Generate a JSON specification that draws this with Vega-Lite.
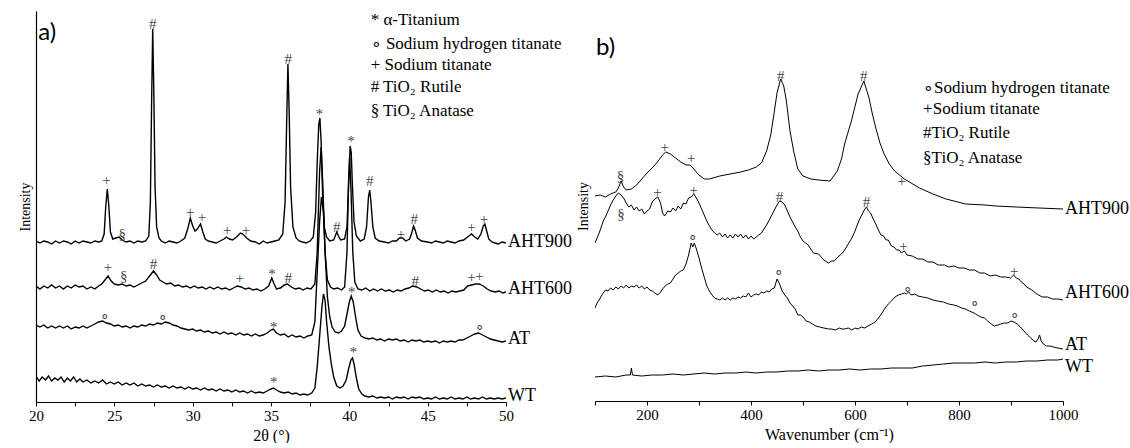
{
"$schema": "https://vega.github.io/schema/vega-lite/v6.json",
"background": "white",
"padding": {"left": 18, "top": 10, "right": 0, "bottom": 0},
"spacing": 4,
"config": {
  "font": "Liberation Serif",
  "view": {"stroke": null},
  "axis": {"grid": false, "domainColor": "black", "domainWidth": 1.2, "tickColor": "black", "labelColor": "black", "titleColor": "black", "labelFont": "Liberation Serif", "titleFont": "Liberation Serif", "titleFontWeight": "normal", "labelFontSize": 15, "titleFontSize": 16}
},
"datasets": {
  "xrd": [
    {"s":"AHT900","x":20.0,"y":161},{"s":"AHT900","x":20.25,"y":159},{"s":"AHT900","x":20.5,"y":161},{"s":"AHT900","x":20.75,"y":160},{"s":"AHT900","x":21.0,"y":158},{"s":"AHT900","x":21.25,"y":161},{"s":"AHT900","x":21.5,"y":159},{"s":"AHT900","x":21.75,"y":161},{"s":"AHT900","x":22.0,"y":160},{"s":"AHT900","x":22.25,"y":158},{"s":"AHT900","x":22.5,"y":161},{"s":"AHT900","x":22.75,"y":159},{"s":"AHT900","x":23.0,"y":161},{"s":"AHT900","x":23.25,"y":160},{"s":"AHT900","x":23.5,"y":159},{"s":"AHT900","x":23.75,"y":161},{"s":"AHT900","x":24.0,"y":160},{"s":"AHT900","x":24.2,"y":161},{"s":"AHT900","x":24.35,"y":168},{"s":"AHT900","x":24.45,"y":195},{"s":"AHT900","x":24.55,"y":213},{"s":"AHT900","x":24.65,"y":196},{"s":"AHT900","x":24.75,"y":170},{"s":"AHT900","x":24.9,"y":163},{"s":"AHT900","x":25.1,"y":164},{"s":"AHT900","x":25.3,"y":165},{"s":"AHT900","x":25.5,"y":162},{"s":"AHT900","x":25.75,"y":160},{"s":"AHT900","x":26.0,"y":161},{"s":"AHT900","x":26.25,"y":159},{"s":"AHT900","x":26.5,"y":161},{"s":"AHT900","x":26.75,"y":160},{"s":"AHT900","x":27.0,"y":161},{"s":"AHT900","x":27.2,"y":166},{"s":"AHT900","x":27.3,"y":200},{"s":"AHT900","x":27.38,"y":300},{"s":"AHT900","x":27.45,"y":373},{"s":"AHT900","x":27.52,"y":310},{"s":"AHT900","x":27.6,"y":215},{"s":"AHT900","x":27.7,"y":175},{"s":"AHT900","x":27.85,"y":164},{"s":"AHT900","x":28.0,"y":161},{"s":"AHT900","x":28.25,"y":159},{"s":"AHT900","x":28.5,"y":161},{"s":"AHT900","x":28.75,"y":160},{"s":"AHT900","x":29.0,"y":159},{"s":"AHT900","x":29.25,"y":161},{"s":"AHT900","x":29.5,"y":164},{"s":"AHT900","x":29.7,"y":174},{"s":"AHT900","x":29.85,"y":184},{"s":"AHT900","x":30.0,"y":176},{"s":"AHT900","x":30.15,"y":171},{"s":"AHT900","x":30.3,"y":173},{"s":"AHT900","x":30.5,"y":178},{"s":"AHT900","x":30.65,"y":170},{"s":"AHT900","x":30.8,"y":163},{"s":"AHT900","x":31.0,"y":161},{"s":"AHT900","x":31.25,"y":160},{"s":"AHT900","x":31.5,"y":159},{"s":"AHT900","x":31.75,"y":161},{"s":"AHT900","x":32.0,"y":163},{"s":"AHT900","x":32.15,"y":165},{"s":"AHT900","x":32.35,"y":163},{"s":"AHT900","x":32.55,"y":162},{"s":"AHT900","x":32.8,"y":165},{"s":"AHT900","x":33.05,"y":169},{"s":"AHT900","x":33.2,"y":168},{"s":"AHT900","x":33.45,"y":164},{"s":"AHT900","x":33.7,"y":161},{"s":"AHT900","x":34.0,"y":160},{"s":"AHT900","x":34.25,"y":158},{"s":"AHT900","x":34.5,"y":161},{"s":"AHT900","x":34.75,"y":159},{"s":"AHT900","x":35.0,"y":160},{"s":"AHT900","x":35.25,"y":161},{"s":"AHT900","x":35.5,"y":162},{"s":"AHT900","x":35.75,"y":168},{"s":"AHT900","x":35.9,"y":200},{"s":"AHT900","x":36.0,"y":280},{"s":"AHT900","x":36.08,"y":338},{"s":"AHT900","x":36.16,"y":290},{"s":"AHT900","x":36.25,"y":215},{"s":"AHT900","x":36.4,"y":175},{"s":"AHT900","x":36.6,"y":164},{"s":"AHT900","x":36.8,"y":161},{"s":"AHT900","x":37.0,"y":160},{"s":"AHT900","x":37.25,"y":159},{"s":"AHT900","x":37.5,"y":161},{"s":"AHT900","x":37.7,"y":165},{"s":"AHT900","x":37.85,"y":190},{"s":"AHT900","x":37.95,"y":240},{"s":"AHT900","x":38.05,"y":278},{"s":"AHT900","x":38.12,"y":284},{"s":"AHT900","x":38.2,"y":260},{"s":"AHT900","x":38.3,"y":205},{"s":"AHT900","x":38.4,"y":175},{"s":"AHT900","x":38.55,"y":165},{"s":"AHT900","x":38.75,"y":161},{"s":"AHT900","x":39.0,"y":162},{"s":"AHT900","x":39.1,"y":166},{"s":"AHT900","x":39.2,"y":170},{"s":"AHT900","x":39.3,"y":166},{"s":"AHT900","x":39.45,"y":162},{"s":"AHT900","x":39.7,"y":163},{"s":"AHT900","x":39.85,"y":175},{"s":"AHT900","x":39.95,"y":215},{"s":"AHT900","x":40.05,"y":256},{"s":"AHT900","x":40.12,"y":250},{"s":"AHT900","x":40.2,"y":215},{"s":"AHT900","x":40.3,"y":180},{"s":"AHT900","x":40.45,"y":166},{"s":"AHT900","x":40.7,"y":161},{"s":"AHT900","x":40.95,"y":163},{"s":"AHT900","x":41.1,"y":175},{"s":"AHT900","x":41.22,"y":205},{"s":"AHT900","x":41.3,"y":212},{"s":"AHT900","x":41.38,"y":200},{"s":"AHT900","x":41.5,"y":175},{"s":"AHT900","x":41.65,"y":164},{"s":"AHT900","x":41.9,"y":161},{"s":"AHT900","x":42.25,"y":160},{"s":"AHT900","x":42.5,"y":159},{"s":"AHT900","x":42.75,"y":161},{"s":"AHT900","x":43.0,"y":161},{"s":"AHT900","x":43.2,"y":164},{"s":"AHT900","x":43.4,"y":164},{"s":"AHT900","x":43.6,"y":161},{"s":"AHT900","x":43.85,"y":163},{"s":"AHT900","x":44.0,"y":170},{"s":"AHT900","x":44.1,"y":176},{"s":"AHT900","x":44.2,"y":172},{"s":"AHT900","x":44.35,"y":164},{"s":"AHT900","x":44.6,"y":161},{"s":"AHT900","x":45.0,"y":160},{"s":"AHT900","x":45.25,"y":159},{"s":"AHT900","x":45.5,"y":161},{"s":"AHT900","x":45.75,"y":160},{"s":"AHT900","x":46.0,"y":159},{"s":"AHT900","x":46.25,"y":161},{"s":"AHT900","x":46.5,"y":160},{"s":"AHT900","x":46.75,"y":159},{"s":"AHT900","x":47.0,"y":161},{"s":"AHT900","x":47.3,"y":162},{"s":"AHT900","x":47.55,"y":165},{"s":"AHT900","x":47.8,"y":168},{"s":"AHT900","x":48.0,"y":165},{"s":"AHT900","x":48.2,"y":163},{"s":"AHT900","x":48.4,"y":168},{"s":"AHT900","x":48.55,"y":176},{"s":"AHT900","x":48.65,"y":178},{"s":"AHT900","x":48.75,"y":172},{"s":"AHT900","x":48.9,"y":163},{"s":"AHT900","x":49.1,"y":160},{"s":"AHT900","x":49.3,"y":159},{"s":"AHT900","x":49.5,"y":158},{"s":"AHT900","x":49.75,"y":160},{"s":"AHT900","x":50.0,"y":159},
    {"s":"AHT600","x":20.0,"y":116},{"s":"AHT600","x":20.25,"y":113},{"s":"AHT600","x":20.5,"y":116},{"s":"AHT600","x":20.75,"y":114},{"s":"AHT600","x":21.0,"y":117},{"s":"AHT600","x":21.25,"y":114},{"s":"AHT600","x":21.5,"y":116},{"s":"AHT600","x":21.75,"y":113},{"s":"AHT600","x":22.0,"y":116},{"s":"AHT600","x":22.25,"y":114},{"s":"AHT600","x":22.5,"y":117},{"s":"AHT600","x":22.75,"y":115},{"s":"AHT600","x":23.0,"y":116},{"s":"AHT600","x":23.25,"y":113},{"s":"AHT600","x":23.5,"y":115},{"s":"AHT600","x":23.75,"y":113},{"s":"AHT600","x":24.0,"y":116},{"s":"AHT600","x":24.2,"y":118},{"s":"AHT600","x":24.4,"y":122},{"s":"AHT600","x":24.6,"y":126},{"s":"AHT600","x":24.8,"y":121},{"s":"AHT600","x":25.0,"y":118},{"s":"AHT600","x":25.25,"y":117},{"s":"AHT600","x":25.5,"y":118},{"s":"AHT600","x":25.75,"y":116},{"s":"AHT600","x":26.0,"y":117},{"s":"AHT600","x":26.25,"y":115},{"s":"AHT600","x":26.5,"y":117},{"s":"AHT600","x":26.75,"y":119},{"s":"AHT600","x":27.0,"y":121},{"s":"AHT600","x":27.25,"y":126},{"s":"AHT600","x":27.5,"y":131},{"s":"AHT600","x":27.7,"y":127},{"s":"AHT600","x":27.9,"y":122},{"s":"AHT600","x":28.1,"y":120},{"s":"AHT600","x":28.35,"y":118},{"s":"AHT600","x":28.6,"y":119},{"s":"AHT600","x":28.85,"y":116},{"s":"AHT600","x":29.1,"y":117},{"s":"AHT600","x":29.35,"y":115},{"s":"AHT600","x":29.6,"y":116},{"s":"AHT600","x":29.85,"y":114},{"s":"AHT600","x":30.1,"y":116},{"s":"AHT600","x":30.35,"y":114},{"s":"AHT600","x":30.6,"y":115},{"s":"AHT600","x":30.85,"y":113},{"s":"AHT600","x":31.1,"y":115},{"s":"AHT600","x":31.35,"y":113},{"s":"AHT600","x":31.6,"y":115},{"s":"AHT600","x":31.85,"y":113},{"s":"AHT600","x":32.1,"y":114},{"s":"AHT600","x":32.35,"y":112},{"s":"AHT600","x":32.6,"y":114},{"s":"AHT600","x":32.85,"y":116},{"s":"AHT600","x":33.1,"y":115},{"s":"AHT600","x":33.35,"y":113},{"s":"AHT600","x":33.6,"y":114},{"s":"AHT600","x":33.85,"y":112},{"s":"AHT600","x":34.1,"y":113},{"s":"AHT600","x":34.35,"y":111},{"s":"AHT600","x":34.6,"y":113},{"s":"AHT600","x":34.85,"y":116},{"s":"AHT600","x":35.05,"y":124},{"s":"AHT600","x":35.2,"y":118},{"s":"AHT600","x":35.35,"y":113},{"s":"AHT600","x":35.6,"y":114},{"s":"AHT600","x":35.85,"y":117},{"s":"AHT600","x":36.05,"y":118},{"s":"AHT600","x":36.3,"y":115},{"s":"AHT600","x":36.55,"y":113},{"s":"AHT600","x":36.8,"y":114},{"s":"AHT600","x":37.05,"y":112},{"s":"AHT600","x":37.3,"y":114},{"s":"AHT600","x":37.55,"y":113},{"s":"AHT600","x":37.8,"y":118},{"s":"AHT600","x":37.95,"y":150},{"s":"AHT600","x":38.1,"y":230},{"s":"AHT600","x":38.2,"y":255},{"s":"AHT600","x":38.3,"y":220},{"s":"AHT600","x":38.45,"y":150},{"s":"AHT600","x":38.6,"y":122},{"s":"AHT600","x":38.8,"y":115},{"s":"AHT600","x":39.0,"y":113},{"s":"AHT600","x":39.25,"y":114},{"s":"AHT600","x":39.5,"y":112},{"s":"AHT600","x":39.7,"y":115},{"s":"AHT600","x":39.85,"y":150},{"s":"AHT600","x":39.95,"y":220},{"s":"AHT600","x":40.02,"y":245},{"s":"AHT600","x":40.1,"y":215},{"s":"AHT600","x":40.22,"y":150},{"s":"AHT600","x":40.35,"y":120},{"s":"AHT600","x":40.55,"y":113},{"s":"AHT600","x":40.8,"y":112},{"s":"AHT600","x":41.05,"y":114},{"s":"AHT600","x":41.3,"y":111},{"s":"AHT600","x":41.55,"y":113},{"s":"AHT600","x":41.8,"y":111},{"s":"AHT600","x":42.05,"y":113},{"s":"AHT600","x":42.3,"y":111},{"s":"AHT600","x":42.55,"y":112},{"s":"AHT600","x":42.8,"y":110},{"s":"AHT600","x":43.05,"y":112},{"s":"AHT600","x":43.3,"y":111},{"s":"AHT600","x":43.55,"y":113},{"s":"AHT600","x":43.8,"y":114},{"s":"AHT600","x":44.05,"y":116},{"s":"AHT600","x":44.3,"y":115},{"s":"AHT600","x":44.55,"y":113},{"s":"AHT600","x":44.8,"y":111},{"s":"AHT600","x":45.05,"y":112},{"s":"AHT600","x":45.3,"y":110},{"s":"AHT600","x":45.55,"y":112},{"s":"AHT600","x":45.8,"y":110},{"s":"AHT600","x":46.05,"y":111},{"s":"AHT600","x":46.3,"y":109},{"s":"AHT600","x":46.55,"y":111},{"s":"AHT600","x":46.8,"y":110},{"s":"AHT600","x":47.05,"y":111},{"s":"AHT600","x":47.3,"y":112},{"s":"AHT600","x":47.55,"y":116},{"s":"AHT600","x":47.8,"y":117},{"s":"AHT600","x":48.05,"y":118},{"s":"AHT600","x":48.3,"y":118},{"s":"AHT600","x":48.55,"y":116},{"s":"AHT600","x":48.8,"y":113},{"s":"AHT600","x":49.05,"y":111},{"s":"AHT600","x":49.3,"y":110},{"s":"AHT600","x":49.55,"y":111},{"s":"AHT600","x":49.8,"y":109},{"s":"AHT600","x":50.0,"y":110},
    {"s":"AT","x":20.0,"y":77},{"s":"AT","x":20.25,"y":75},{"s":"AT","x":20.5,"y":77},{"s":"AT","x":20.75,"y":74},{"s":"AT","x":21.0,"y":76},{"s":"AT","x":21.25,"y":74},{"s":"AT","x":21.5,"y":76},{"s":"AT","x":21.75,"y":74},{"s":"AT","x":22.0,"y":76},{"s":"AT","x":22.25,"y":73},{"s":"AT","x":22.5,"y":75},{"s":"AT","x":22.75,"y":74},{"s":"AT","x":23.0,"y":76},{"s":"AT","x":23.25,"y":74},{"s":"AT","x":23.5,"y":76},{"s":"AT","x":23.75,"y":78},{"s":"AT","x":24.0,"y":80},{"s":"AT","x":24.25,"y":81},{"s":"AT","x":24.5,"y":79},{"s":"AT","x":24.75,"y":78},{"s":"AT","x":25.0,"y":76},{"s":"AT","x":25.25,"y":77},{"s":"AT","x":25.5,"y":75},{"s":"AT","x":25.75,"y":76},{"s":"AT","x":26.0,"y":74},{"s":"AT","x":26.25,"y":76},{"s":"AT","x":26.5,"y":75},{"s":"AT","x":26.75,"y":77},{"s":"AT","x":27.0,"y":76},{"s":"AT","x":27.25,"y":78},{"s":"AT","x":27.5,"y":77},{"s":"AT","x":27.75,"y":79},{"s":"AT","x":28.0,"y":78},{"s":"AT","x":28.25,"y":80},{"s":"AT","x":28.5,"y":79},{"s":"AT","x":28.75,"y":77},{"s":"AT","x":29.0,"y":76},{"s":"AT","x":29.25,"y":74},{"s":"AT","x":29.5,"y":73},{"s":"AT","x":29.75,"y":72},{"s":"AT","x":30.0,"y":73},{"s":"AT","x":30.25,"y":71},{"s":"AT","x":30.5,"y":72},{"s":"AT","x":30.75,"y":70},{"s":"AT","x":31.0,"y":71},{"s":"AT","x":31.25,"y":69},{"s":"AT","x":31.5,"y":70},{"s":"AT","x":31.75,"y":68},{"s":"AT","x":32.0,"y":70},{"s":"AT","x":32.25,"y":68},{"s":"AT","x":32.5,"y":69},{"s":"AT","x":32.75,"y":67},{"s":"AT","x":33.0,"y":69},{"s":"AT","x":33.25,"y":67},{"s":"AT","x":33.5,"y":68},{"s":"AT","x":33.75,"y":66},{"s":"AT","x":34.0,"y":68},{"s":"AT","x":34.25,"y":66},{"s":"AT","x":34.5,"y":67},{"s":"AT","x":34.75,"y":69},{"s":"AT","x":35.0,"y":72},{"s":"AT","x":35.15,"y":73},{"s":"AT","x":35.35,"y":69},{"s":"AT","x":35.6,"y":67},{"s":"AT","x":35.85,"y":68},{"s":"AT","x":36.1,"y":65},{"s":"AT","x":36.35,"y":67},{"s":"AT","x":36.6,"y":65},{"s":"AT","x":36.85,"y":66},{"s":"AT","x":37.1,"y":64},{"s":"AT","x":37.35,"y":66},{"s":"AT","x":37.6,"y":67},{"s":"AT","x":37.8,"y":80},{"s":"AT","x":37.95,"y":130},{"s":"AT","x":38.1,"y":180},{"s":"AT","x":38.22,"y":205},{"s":"AT","x":38.35,"y":190},{"s":"AT","x":38.45,"y":150},{"s":"AT","x":38.6,"y":105},{"s":"AT","x":38.75,"y":85},{"s":"AT","x":38.9,"y":75},{"s":"AT","x":39.1,"y":70},{"s":"AT","x":39.3,"y":69},{"s":"AT","x":39.5,"y":71},{"s":"AT","x":39.7,"y":76},{"s":"AT","x":39.85,"y":88},{"s":"AT","x":40.0,"y":100},{"s":"AT","x":40.12,"y":106},{"s":"AT","x":40.25,"y":100},{"s":"AT","x":40.4,"y":85},{"s":"AT","x":40.55,"y":72},{"s":"AT","x":40.75,"y":66},{"s":"AT","x":41.0,"y":64},{"s":"AT","x":41.25,"y":63},{"s":"AT","x":41.5,"y":64},{"s":"AT","x":41.75,"y":62},{"s":"AT","x":42.0,"y":63},{"s":"AT","x":42.25,"y":61},{"s":"AT","x":42.5,"y":63},{"s":"AT","x":42.75,"y":62},{"s":"AT","x":43.0,"y":63},{"s":"AT","x":43.25,"y":61},{"s":"AT","x":43.5,"y":62},{"s":"AT","x":43.75,"y":60},{"s":"AT","x":44.0,"y":62},{"s":"AT","x":44.25,"y":61},{"s":"AT","x":44.5,"y":62},{"s":"AT","x":44.75,"y":60},{"s":"AT","x":45.0,"y":61},{"s":"AT","x":45.25,"y":60},{"s":"AT","x":45.5,"y":61},{"s":"AT","x":45.75,"y":59},{"s":"AT","x":46.0,"y":61},{"s":"AT","x":46.25,"y":60},{"s":"AT","x":46.5,"y":61},{"s":"AT","x":46.75,"y":60},{"s":"AT","x":47.0,"y":62},{"s":"AT","x":47.25,"y":62},{"s":"AT","x":47.5,"y":64},{"s":"AT","x":47.75,"y":66},{"s":"AT","x":48.0,"y":68},{"s":"AT","x":48.25,"y":69},{"s":"AT","x":48.5,"y":67},{"s":"AT","x":48.75,"y":65},{"s":"AT","x":49.0,"y":63},{"s":"AT","x":49.25,"y":62},{"s":"AT","x":49.5,"y":61},{"s":"AT","x":49.75,"y":60},{"s":"AT","x":50.0,"y":61},
    {"s":"WT","x":20.0,"y":26},{"s":"WT","x":20.2,"y":21},{"s":"WT","x":20.4,"y":25},{"s":"WT","x":20.6,"y":22},{"s":"WT","x":20.8,"y":26},{"s":"WT","x":21.0,"y":21},{"s":"WT","x":21.2,"y":24},{"s":"WT","x":21.4,"y":22},{"s":"WT","x":21.6,"y":25},{"s":"WT","x":21.8,"y":20},{"s":"WT","x":22.0,"y":24},{"s":"WT","x":22.2,"y":21},{"s":"WT","x":22.4,"y":25},{"s":"WT","x":22.6,"y":20},{"s":"WT","x":22.8,"y":23},{"s":"WT","x":23.0,"y":20},{"s":"WT","x":23.25,"y":22},{"s":"WT","x":23.5,"y":19},{"s":"WT","x":23.75,"y":21},{"s":"WT","x":24.0,"y":19},{"s":"WT","x":24.25,"y":22},{"s":"WT","x":24.5,"y":18},{"s":"WT","x":24.75,"y":20},{"s":"WT","x":25.0,"y":18},{"s":"WT","x":25.25,"y":20},{"s":"WT","x":25.5,"y":17},{"s":"WT","x":25.75,"y":19},{"s":"WT","x":26.0,"y":17},{"s":"WT","x":26.25,"y":19},{"s":"WT","x":26.5,"y":16},{"s":"WT","x":26.75,"y":18},{"s":"WT","x":27.0,"y":16},{"s":"WT","x":27.25,"y":17},{"s":"WT","x":27.5,"y":15},{"s":"WT","x":27.75,"y":17},{"s":"WT","x":28.0,"y":15},{"s":"WT","x":28.25,"y":16},{"s":"WT","x":28.5,"y":14},{"s":"WT","x":28.75,"y":16},{"s":"WT","x":29.0,"y":14},{"s":"WT","x":29.25,"y":15},{"s":"WT","x":29.5,"y":13},{"s":"WT","x":29.75,"y":15},{"s":"WT","x":30.0,"y":13},{"s":"WT","x":30.25,"y":14},{"s":"WT","x":30.5,"y":12},{"s":"WT","x":30.75,"y":14},{"s":"WT","x":31.0,"y":12},{"s":"WT","x":31.25,"y":13},{"s":"WT","x":31.5,"y":11},{"s":"WT","x":31.75,"y":13},{"s":"WT","x":32.0,"y":11},{"s":"WT","x":32.25,"y":12},{"s":"WT","x":32.5,"y":10},{"s":"WT","x":32.75,"y":12},{"s":"WT","x":33.0,"y":10},{"s":"WT","x":33.25,"y":11},{"s":"WT","x":33.5,"y":9},{"s":"WT","x":33.75,"y":11},{"s":"WT","x":34.0,"y":9},{"s":"WT","x":34.25,"y":10},{"s":"WT","x":34.5,"y":9},{"s":"WT","x":34.75,"y":11},{"s":"WT","x":35.0,"y":13},{"s":"WT","x":35.15,"y":14},{"s":"WT","x":35.35,"y":12},{"s":"WT","x":35.6,"y":10},{"s":"WT","x":35.85,"y":9},{"s":"WT","x":36.1,"y":10},{"s":"WT","x":36.35,"y":8},{"s":"WT","x":36.6,"y":9},{"s":"WT","x":36.85,"y":7},{"s":"WT","x":37.1,"y":8},{"s":"WT","x":37.35,"y":7},{"s":"WT","x":37.6,"y":9},{"s":"WT","x":37.8,"y":14},{"s":"WT","x":37.95,"y":35},{"s":"WT","x":38.1,"y":65},{"s":"WT","x":38.25,"y":95},{"s":"WT","x":38.35,"y":108},{"s":"WT","x":38.45,"y":102},{"s":"WT","x":38.55,"y":80},{"s":"WT","x":38.7,"y":55},{"s":"WT","x":38.85,"y":38},{"s":"WT","x":39.0,"y":25},{"s":"WT","x":39.2,"y":16},{"s":"WT","x":39.4,"y":14},{"s":"WT","x":39.6,"y":16},{"s":"WT","x":39.8,"y":22},{"s":"WT","x":39.95,"y":33},{"s":"WT","x":40.1,"y":42},{"s":"WT","x":40.2,"y":44},{"s":"WT","x":40.3,"y":38},{"s":"WT","x":40.45,"y":24},{"s":"WT","x":40.6,"y":13},{"s":"WT","x":40.8,"y":8},{"s":"WT","x":41.0,"y":6},{"s":"WT","x":41.25,"y":5},{"s":"WT","x":41.5,"y":6},{"s":"WT","x":41.75,"y":4},{"s":"WT","x":42.0,"y":5},{"s":"WT","x":42.25,"y":4},{"s":"WT","x":42.5,"y":5},{"s":"WT","x":42.75,"y":3},{"s":"WT","x":43.0,"y":5},{"s":"WT","x":43.25,"y":4},{"s":"WT","x":43.5,"y":5},{"s":"WT","x":43.75,"y":3},{"s":"WT","x":44.0,"y":5},{"s":"WT","x":44.25,"y":4},{"s":"WT","x":44.5,"y":5},{"s":"WT","x":44.75,"y":3},{"s":"WT","x":45.0,"y":4},{"s":"WT","x":45.25,"y":3},{"s":"WT","x":45.5,"y":5},{"s":"WT","x":45.75,"y":3},{"s":"WT","x":46.0,"y":4},{"s":"WT","x":46.25,"y":3},{"s":"WT","x":46.5,"y":5},{"s":"WT","x":46.75,"y":3},{"s":"WT","x":47.0,"y":4},{"s":"WT","x":47.25,"y":3},{"s":"WT","x":47.5,"y":5},{"s":"WT","x":47.75,"y":3},{"s":"WT","x":48.0,"y":4},{"s":"WT","x":48.25,"y":3},{"s":"WT","x":48.5,"y":5},{"s":"WT","x":48.75,"y":3},{"s":"WT","x":49.0,"y":4},{"s":"WT","x":49.25,"y":3},{"s":"WT","x":49.5,"y":4},{"s":"WT","x":49.75,"y":3},{"s":"WT","x":50.0,"y":4}
  ],
  "xrdLabels": [
    {"s":"AHT900","x":50,"y":160},{"s":"AHT600","x":50,"y":113},{"s":"AT","x":50,"y":63},{"s":"WT","x":50,"y":6}
  ],
  "xrdAnn": [
    {"x":24.5,"y":225,"t":"+"},{"x":25.5,"y":171,"t":"§"},{"x":27.45,"y":381,"t":"#"},{"x":29.85,"y":193,"t":"+"},{"x":30.6,"y":188,"t":"+"},{"x":32.2,"y":175,"t":"+"},{"x":33.4,"y":175,"t":"+"},{"x":36.1,"y":346,"t":"#"},{"x":38.1,"y":291,"t":"*"},{"x":39.2,"y":178,"t":"#"},{"x":40.1,"y":264,"t":"*"},{"x":41.3,"y":224,"t":"#"},{"x":43.3,"y":171,"t":"+"},{"x":44.15,"y":186,"t":"#"},{"x":47.8,"y":178,"t":"+"},{"x":48.6,"y":186,"t":"+"},
    {"x":24.6,"y":138,"t":"+"},{"x":25.6,"y":129,"t":"§"},{"x":27.5,"y":141,"t":"#"},{"x":33.0,"y":127,"t":"+"},{"x":35.07,"y":131,"t":"*"},{"x":36.1,"y":127,"t":"#"},{"x":44.2,"y":124,"t":"#"},{"x":47.8,"y":128,"t":"+"},{"x":48.3,"y":129,"t":"+"},
    {"x":24.4,"y":89,"t":"∘"},{"x":28.1,"y":88,"t":"∘"},{"x":35.17,"y":78,"t":"*"},{"x":40.15,"y":113,"t":"*"},{"x":48.3,"y":78,"t":"∘"},
    {"x":35.17,"y":23,"t":"*"},{"x":40.25,"y":53,"t":"*"}
  ],
  "xrdLegend": [
    {"x":41.36,"y":382,"t":"* α-Titanium"},{"x":41.36,"y":358,"t":"∘ Sodium hydrogen titanate"},{"x":41.36,"y":337,"t":"+ Sodium titanate"},{"x":41.36,"y":315,"t":"# TiO₂ Rutile"},{"x":41.36,"y":291,"t":"§ TiO₂ Anatase"}
  ],
  "panelA": [{"x":20.15,"y":369,"t":"a)"}],
  "panelB": [{"x":102,"y":353,"t":"b)"}],
  "raman": [
    {"s":"AHT900","x":100,"y":205},{"s":"AHT900","x":110,"y":206},{"s":"AHT900","x":120,"y":204},{"s":"AHT900","x":130,"y":207},{"s":"AHT900","x":140,"y":209},{"s":"AHT900","x":145,"y":213},{"s":"AHT900","x":150,"y":220},{"s":"AHT900","x":155,"y":214},{"s":"AHT900","x":160,"y":211},{"s":"AHT900","x":170,"y":212},{"s":"AHT900","x":180,"y":216},{"s":"AHT900","x":190,"y":222},{"s":"AHT900","x":200,"y":228},{"s":"AHT900","x":210,"y":233},{"s":"AHT900","x":220,"y":239},{"s":"AHT900","x":230,"y":246},{"s":"AHT900","x":236,"y":249},{"s":"AHT900","x":245,"y":247},{"s":"AHT900","x":255,"y":243},{"s":"AHT900","x":265,"y":239},{"s":"AHT900","x":275,"y":236},{"s":"AHT900","x":283,"y":236},{"s":"AHT900","x":290,"y":232},{"s":"AHT900","x":300,"y":226},{"s":"AHT900","x":310,"y":222},{"s":"AHT900","x":320,"y":222},{"s":"AHT900","x":340,"y":225},{"s":"AHT900","x":360,"y":227},{"s":"AHT900","x":380,"y":229},{"s":"AHT900","x":395,"y":231},{"s":"AHT900","x":410,"y":234},{"s":"AHT900","x":420,"y":238},{"s":"AHT900","x":430,"y":250},{"s":"AHT900","x":438,"y":266},{"s":"AHT900","x":445,"y":290},{"s":"AHT900","x":450,"y":308},{"s":"AHT900","x":457,"y":322},{"s":"AHT900","x":463,"y":315},{"s":"AHT900","x":468,"y":300},{"s":"AHT900","x":475,"y":270},{"s":"AHT900","x":482,"y":250},{"s":"AHT900","x":490,"y":232},{"s":"AHT900","x":500,"y":225},{"s":"AHT900","x":515,"y":222},{"s":"AHT900","x":530,"y":221},{"s":"AHT900","x":552,"y":220},{"s":"AHT900","x":566,"y":230},{"s":"AHT900","x":574,"y":242},{"s":"AHT900","x":580,"y":257},{"s":"AHT900","x":593,"y":280},{"s":"AHT900","x":606,"y":307},{"s":"AHT900","x":617,"y":320},{"s":"AHT900","x":627,"y":303},{"s":"AHT900","x":633,"y":288},{"s":"AHT900","x":640,"y":273},{"s":"AHT900","x":648,"y":258},{"s":"AHT900","x":656,"y":247},{"s":"AHT900","x":666,"y":237},{"s":"AHT900","x":676,"y":230},{"s":"AHT900","x":695,"y":222},{"s":"AHT900","x":724,"y":213},{"s":"AHT900","x":750,"y":207},{"s":"AHT900","x":775,"y":202},{"s":"AHT900","x":813,"y":197},{"s":"AHT900","x":850,"y":196},{"s":"AHT900","x":871,"y":195},{"s":"AHT900","x":910,"y":194},{"s":"AHT900","x":954,"y":193},{"s":"AHT900","x":1000,"y":192},
    {"s":"AHT600","x":100,"y":158},{"s":"AHT600","x":104,"y":163},{"s":"AHT600","x":108,"y":168},{"s":"AHT600","x":112,"y":174},{"s":"AHT600","x":116,"y":180},{"s":"AHT600","x":120,"y":184},{"s":"AHT600","x":125,"y":190},{"s":"AHT600","x":130,"y":196},{"s":"AHT600","x":135,"y":201},{"s":"AHT600","x":140,"y":205},{"s":"AHT600","x":145,"y":208},{"s":"AHT600","x":150,"y":206},{"s":"AHT600","x":155,"y":203},{"s":"AHT600","x":160,"y":198},{"s":"AHT600","x":165,"y":194},{"s":"AHT600","x":170,"y":196},{"s":"AHT600","x":175,"y":191},{"s":"AHT600","x":180,"y":194},{"s":"AHT600","x":185,"y":190},{"s":"AHT600","x":190,"y":192},{"s":"AHT600","x":195,"y":187},{"s":"AHT600","x":200,"y":190},{"s":"AHT600","x":205,"y":192},{"s":"AHT600","x":210,"y":199},{"s":"AHT600","x":215,"y":202},{"s":"AHT600","x":221,"y":204},{"s":"AHT600","x":226,"y":198},{"s":"AHT600","x":230,"y":188},{"s":"AHT600","x":234,"y":185},{"s":"AHT600","x":240,"y":190},{"s":"AHT600","x":245,"y":189},{"s":"AHT600","x":250,"y":193},{"s":"AHT600","x":255,"y":190},{"s":"AHT600","x":260,"y":195},{"s":"AHT600","x":265,"y":192},{"s":"AHT600","x":270,"y":198},{"s":"AHT600","x":275,"y":197},{"s":"AHT600","x":280,"y":203},{"s":"AHT600","x":285,"y":204},{"s":"AHT600","x":290,"y":207},{"s":"AHT600","x":295,"y":203},{"s":"AHT600","x":300,"y":198},{"s":"AHT600","x":305,"y":192},{"s":"AHT600","x":310,"y":186},{"s":"AHT600","x":315,"y":180},{"s":"AHT600","x":320,"y":175},{"s":"AHT600","x":325,"y":171},{"s":"AHT600","x":330,"y":168},{"s":"AHT600","x":335,"y":166},{"s":"AHT600","x":340,"y":168},{"s":"AHT600","x":345,"y":164},{"s":"AHT600","x":350,"y":167},{"s":"AHT600","x":355,"y":163},{"s":"AHT600","x":360,"y":166},{"s":"AHT600","x":365,"y":163},{"s":"AHT600","x":370,"y":167},{"s":"AHT600","x":375,"y":164},{"s":"AHT600","x":380,"y":167},{"s":"AHT600","x":385,"y":163},{"s":"AHT600","x":390,"y":166},{"s":"AHT600","x":395,"y":162},{"s":"AHT600","x":400,"y":165},{"s":"AHT600","x":405,"y":162},{"s":"AHT600","x":410,"y":164},{"s":"AHT600","x":415,"y":166},{"s":"AHT600","x":420,"y":168},{"s":"AHT600","x":425,"y":172},{"s":"AHT600","x":430,"y":176},{"s":"AHT600","x":435,"y":181},{"s":"AHT600","x":440,"y":186},{"s":"AHT600","x":445,"y":191},{"s":"AHT600","x":450,"y":196},{"s":"AHT600","x":455,"y":200},{"s":"AHT600","x":460,"y":199},{"s":"AHT600","x":465,"y":196},{"s":"AHT600","x":470,"y":190},{"s":"AHT600","x":475,"y":184},{"s":"AHT600","x":480,"y":179},{"s":"AHT600","x":485,"y":174},{"s":"AHT600","x":490,"y":170},{"s":"AHT600","x":495,"y":164},{"s":"AHT600","x":500,"y":160},{"s":"AHT600","x":510,"y":156},{"s":"AHT600","x":520,"y":148},{"s":"AHT600","x":530,"y":147},{"s":"AHT600","x":540,"y":141},{"s":"AHT600","x":549,"y":138},{"s":"AHT600","x":555,"y":140},{"s":"AHT600","x":560,"y":140},{"s":"AHT600","x":567,"y":144},{"s":"AHT600","x":574,"y":147},{"s":"AHT600","x":580,"y":151},{"s":"AHT600","x":587,"y":157},{"s":"AHT600","x":594,"y":163},{"s":"AHT600","x":600,"y":170},{"s":"AHT600","x":605,"y":177},{"s":"AHT600","x":610,"y":183},{"s":"AHT600","x":615,"y":188},{"s":"AHT600","x":619,"y":192},{"s":"AHT600","x":622,"y":194},{"s":"AHT600","x":626,"y":190},{"s":"AHT600","x":630,"y":188},{"s":"AHT600","x":635,"y":182},{"s":"AHT600","x":640,"y":177},{"s":"AHT600","x":645,"y":171},{"s":"AHT600","x":650,"y":166},{"s":"AHT600","x":655,"y":165},{"s":"AHT600","x":660,"y":161},{"s":"AHT600","x":664,"y":161},{"s":"AHT600","x":670,"y":155},{"s":"AHT600","x":675,"y":154},{"s":"AHT600","x":680,"y":151},{"s":"AHT600","x":685,"y":151},{"s":"AHT600","x":689,"y":148},{"s":"AHT600","x":695,"y":150},{"s":"AHT600","x":700,"y":146},{"s":"AHT600","x":710,"y":145},{"s":"AHT600","x":721,"y":142},{"s":"AHT600","x":730,"y":142},{"s":"AHT600","x":740,"y":139},{"s":"AHT600","x":750,"y":139},{"s":"AHT600","x":760,"y":136},{"s":"AHT600","x":772,"y":136},{"s":"AHT600","x":780,"y":134},{"s":"AHT600","x":790,"y":135},{"s":"AHT600","x":800,"y":133},{"s":"AHT600","x":810,"y":133},{"s":"AHT600","x":820,"y":131},{"s":"AHT600","x":830,"y":131},{"s":"AHT600","x":840,"y":128},{"s":"AHT600","x":849,"y":128},{"s":"AHT600","x":860,"y":125},{"s":"AHT600","x":870,"y":126},{"s":"AHT600","x":880,"y":124},{"s":"AHT600","x":890,"y":124},{"s":"AHT600","x":899,"y":123},{"s":"AHT600","x":905,"y":126},{"s":"AHT600","x":910,"y":123},{"s":"AHT600","x":915,"y":122},{"s":"AHT600","x":920,"y":119},{"s":"AHT600","x":925,"y":117},{"s":"AHT600","x":930,"y":114},{"s":"AHT600","x":940,"y":111},{"s":"AHT600","x":950,"y":107},{"s":"AHT600","x":960,"y":104},{"s":"AHT600","x":970,"y":104},{"s":"AHT600","x":980,"y":102},{"s":"AHT600","x":990,"y":102},{"s":"AHT600","x":1000,"y":101},
    {"s":"AT","x":100,"y":93},{"s":"AT","x":104,"y":98},{"s":"AT","x":108,"y":101},{"s":"AT","x":112,"y":105},{"s":"AT","x":116,"y":108},{"s":"AT","x":120,"y":111},{"s":"AT","x":125,"y":110},{"s":"AT","x":130,"y":113},{"s":"AT","x":135,"y":111},{"s":"AT","x":140,"y":114},{"s":"AT","x":145,"y":112},{"s":"AT","x":150,"y":115},{"s":"AT","x":155,"y":113},{"s":"AT","x":160,"y":116},{"s":"AT","x":165,"y":113},{"s":"AT","x":170,"y":115},{"s":"AT","x":175,"y":114},{"s":"AT","x":180,"y":116},{"s":"AT","x":185,"y":113},{"s":"AT","x":190,"y":115},{"s":"AT","x":195,"y":112},{"s":"AT","x":200,"y":114},{"s":"AT","x":205,"y":111},{"s":"AT","x":210,"y":110},{"s":"AT","x":215,"y":108},{"s":"AT","x":221,"y":106},{"s":"AT","x":226,"y":109},{"s":"AT","x":230,"y":112},{"s":"AT","x":235,"y":115},{"s":"AT","x":240,"y":117},{"s":"AT","x":245,"y":118},{"s":"AT","x":250,"y":122},{"s":"AT","x":255,"y":126},{"s":"AT","x":260,"y":128},{"s":"AT","x":265,"y":130},{"s":"AT","x":270,"y":131},{"s":"AT","x":275,"y":137},{"s":"AT","x":280,"y":146},{"s":"AT","x":285,"y":158},{"s":"AT","x":288,"y":154},{"s":"AT","x":291,"y":158},{"s":"AT","x":295,"y":152},{"s":"AT","x":300,"y":143},{"s":"AT","x":305,"y":133},{"s":"AT","x":310,"y":124},{"s":"AT","x":315,"y":115},{"s":"AT","x":320,"y":110},{"s":"AT","x":325,"y":106},{"s":"AT","x":330,"y":103},{"s":"AT","x":335,"y":102},{"s":"AT","x":340,"y":101},{"s":"AT","x":345,"y":103},{"s":"AT","x":350,"y":101},{"s":"AT","x":355,"y":103},{"s":"AT","x":360,"y":101},{"s":"AT","x":365,"y":103},{"s":"AT","x":370,"y":102},{"s":"AT","x":375,"y":104},{"s":"AT","x":380,"y":103},{"s":"AT","x":385,"y":105},{"s":"AT","x":390,"y":104},{"s":"AT","x":395,"y":108},{"s":"AT","x":400,"y":104},{"s":"AT","x":405,"y":106},{"s":"AT","x":410,"y":107},{"s":"AT","x":415,"y":106},{"s":"AT","x":420,"y":109},{"s":"AT","x":425,"y":108},{"s":"AT","x":430,"y":110},{"s":"AT","x":435,"y":109},{"s":"AT","x":440,"y":112},{"s":"AT","x":445,"y":113},{"s":"AT","x":450,"y":122},{"s":"AT","x":455,"y":117},{"s":"AT","x":460,"y":110},{"s":"AT","x":465,"y":106},{"s":"AT","x":470,"y":103},{"s":"AT","x":475,"y":98},{"s":"AT","x":480,"y":95},{"s":"AT","x":485,"y":92},{"s":"AT","x":490,"y":86},{"s":"AT","x":495,"y":86},{"s":"AT","x":500,"y":84},{"s":"AT","x":506,"y":80},{"s":"AT","x":512,"y":79},{"s":"AT","x":518,"y":77},{"s":"AT","x":525,"y":75},{"s":"AT","x":532,"y":74},{"s":"AT","x":540,"y":73},{"s":"AT","x":549,"y":72},{"s":"AT","x":555,"y":72},{"s":"AT","x":562,"y":71},{"s":"AT","x":570,"y":73},{"s":"AT","x":575,"y":72},{"s":"AT","x":580,"y":72},{"s":"AT","x":587,"y":73},{"s":"AT","x":594,"y":71},{"s":"AT","x":600,"y":73},{"s":"AT","x":606,"y":72},{"s":"AT","x":612,"y":74},{"s":"AT","x":619,"y":73},{"s":"AT","x":625,"y":75},{"s":"AT","x":632,"y":77},{"s":"AT","x":639,"y":79},{"s":"AT","x":645,"y":83},{"s":"AT","x":652,"y":88},{"s":"AT","x":658,"y":93},{"s":"AT","x":664,"y":97},{"s":"AT","x":670,"y":100},{"s":"AT","x":677,"y":104},{"s":"AT","x":683,"y":106},{"s":"AT","x":690,"y":107},{"s":"AT","x":695,"y":108},{"s":"AT","x":699,"y":107},{"s":"AT","x":703,"y":109},{"s":"AT","x":708,"y":106},{"s":"AT","x":715,"y":107},{"s":"AT","x":721,"y":105},{"s":"AT","x":730,"y":104},{"s":"AT","x":740,"y":103},{"s":"AT","x":750,"y":101},{"s":"AT","x":759,"y":100},{"s":"AT","x":770,"y":99},{"s":"AT","x":780,"y":97},{"s":"AT","x":790,"y":96},{"s":"AT","x":797,"y":95},{"s":"AT","x":805,"y":93},{"s":"AT","x":812,"y":92},{"s":"AT","x":820,"y":90},{"s":"AT","x":829,"y":88},{"s":"AT","x":835,"y":86},{"s":"AT","x":842,"y":84},{"s":"AT","x":849,"y":83},{"s":"AT","x":855,"y":80},{"s":"AT","x":862,"y":77},{"s":"AT","x":868,"y":75},{"s":"AT","x":875,"y":76},{"s":"AT","x":880,"y":77},{"s":"AT","x":887,"y":78},{"s":"AT","x":894,"y":78},{"s":"AT","x":900,"y":80},{"s":"AT","x":906,"y":79},{"s":"AT","x":912,"y":77},{"s":"AT","x":918,"y":74},{"s":"AT","x":925,"y":70},{"s":"AT","x":932,"y":66},{"s":"AT","x":938,"y":63},{"s":"AT","x":944,"y":60},{"s":"AT","x":948,"y":59},{"s":"AT","x":952,"y":62},{"s":"AT","x":955,"y":66},{"s":"AT","x":958,"y":60},{"s":"AT","x":962,"y":57},{"s":"AT","x":968,"y":55},{"s":"AT","x":975,"y":55},{"s":"AT","x":982,"y":54},{"s":"AT","x":990,"y":53},{"s":"AT","x":1000,"y":52},
    {"s":"WT","x":100,"y":24},{"s":"WT","x":120,"y":25},{"s":"WT","x":140,"y":24},{"s":"WT","x":160,"y":26},{"s":"WT","x":168,"y":26},{"s":"WT","x":170,"y":33},{"s":"WT","x":172,"y":26},{"s":"WT","x":190,"y":25},{"s":"WT","x":210,"y":26},{"s":"WT","x":230,"y":26},{"s":"WT","x":250,"y":27},{"s":"WT","x":270,"y":26},{"s":"WT","x":290,"y":27},{"s":"WT","x":310,"y":28},{"s":"WT","x":330,"y":27},{"s":"WT","x":350,"y":28},{"s":"WT","x":370,"y":28},{"s":"WT","x":390,"y":29},{"s":"WT","x":410,"y":28},{"s":"WT","x":430,"y":29},{"s":"WT","x":450,"y":29},{"s":"WT","x":470,"y":30},{"s":"WT","x":490,"y":30},{"s":"WT","x":510,"y":31},{"s":"WT","x":530,"y":30},{"s":"WT","x":550,"y":31},{"s":"WT","x":570,"y":31},{"s":"WT","x":590,"y":32},{"s":"WT","x":610,"y":31},{"s":"WT","x":630,"y":32},{"s":"WT","x":650,"y":32},{"s":"WT","x":670,"y":33},{"s":"WT","x":690,"y":33},{"s":"WT","x":710,"y":33},{"s":"WT","x":730,"y":35},{"s":"WT","x":750,"y":36},{"s":"WT","x":770,"y":37},{"s":"WT","x":790,"y":38},{"s":"WT","x":810,"y":38},{"s":"WT","x":830,"y":38},{"s":"WT","x":850,"y":39},{"s":"WT","x":870,"y":38},{"s":"WT","x":890,"y":39},{"s":"WT","x":910,"y":39},{"s":"WT","x":930,"y":40},{"s":"WT","x":950,"y":40},{"s":"WT","x":970,"y":41},{"s":"WT","x":990,"y":41},{"s":"WT","x":1000,"y":42}
  ],
  "ramanLabels": [
    {"s":"AHT900","x":1000,"y":192},{"s":"AHT600","x":1000,"y":108},{"s":"AT","x":1000,"y":56},{"s":"WT","x":1000,"y":34}
  ],
  "ramanAnn": [
    {"x":149,"y":228,"t":"§"},{"x":234,"y":257,"t":"+"},{"x":285,"y":246,"t":"+"},{"x":457,"y":328,"t":"#"},{"x":617,"y":328,"t":"#"},{"x":690,"y":223,"t":"+"},
    {"x":150,"y":190,"t":"§"},{"x":220,"y":212,"t":"+"},{"x":290,"y":214,"t":"+"},{"x":455,"y":207,"t":"#"},{"x":622,"y":202,"t":"#"},{"x":693,"y":158,"t":"+"},{"x":906,"y":133,"t":"+"},
    {"x":288,"y":167,"t":"∘"},{"x":453,"y":132,"t":"∘"},{"x":700,"y":115,"t":"∘"},{"x":829,"y":101,"t":"∘"},{"x":907,"y":89,"t":"∘"}
  ],
  "ramanLegend": [
    {"x":731,"y":313,"t":"∘Sodium hydrogen titanate"},{"x":731,"y":292,"t":"+Sodium titanate"},{"x":731,"y":268,"t":"#TiO₂ Rutile"},{"x":731,"y":243,"t":"§TiO₂ Anatase"}
  ]
},
"hconcat": [
  {
    "width": 470, "height": 391,
    "encoding": {
      "x": {"field": "x", "type": "quantitative", "scale": {"domain": [20, 50], "nice": false, "zero": false},
            "axis": {"title": "2θ (°)", "values": [20,22.5,25,27.5,30,32.5,35,37.5,40,42.5,45,47.5,50], "labelExpr": "datum.value % 5 === 0 ? datum.label : ''", "labelOverlap": false, "labelFlush": false, "tickSize": 4, "labelPadding": 2, "titlePadding": 4}},
      "y": {"field": "y", "type": "quantitative", "scale": {"domain": [0, 391], "nice": false, "zero": false},
            "axis": {"title": "Intensity", "labels": false, "ticks": false, "titleFontSize": 14, "titlePadding": 4}}
    },
    "layer": [
      {"data": {"name": "xrd"}, "mark": {"type": "line", "color": "black", "strokeWidth": 1.4, "clip": true}, "encoding": {"detail": {"field": "s"}}},
      {"data": {"name": "xrdLabels"}, "mark": {"type": "text", "align": "left", "baseline": "middle", "dx": 2, "font": "Liberation Serif", "fontSize": 18, "color": "black"}, "encoding": {"text": {"field": "s"}}},
      {"data": {"name": "xrdAnn"}, "mark": {"type": "text", "align": "center", "baseline": "middle", "dy": 3, "font": "Liberation Serif", "fontSize": 15, "color": "#444444"}, "encoding": {"text": {"field": "t"}}},
      {"data": {"name": "xrdLegend"}, "mark": {"type": "text", "align": "left", "baseline": "middle", "font": "Liberation Serif", "fontSize": 17, "color": "black"}, "encoding": {"text": {"field": "t"}}},
      {"data": {"name": "panelA"}, "mark": {"type": "text", "align": "left", "baseline": "middle", "font": "Lato", "fontSize": 24, "color": "black"}, "encoding": {"text": {"field": "t"}}}
    ]
  },
  {
    "width": 468, "height": 390,
    "encoding": {
      "x": {"field": "x", "type": "quantitative", "scale": {"domain": [100, 1000], "nice": false, "zero": false},
            "axis": {"title": "Wavenumber (cm⁻¹)", "values": [100,200,300,400,500,600,700,800,900,1000], "labelExpr": "datum.value % 200 === 0 ? datum.label : ''", "format": "d", "labelOverlap": false, "labelFlush": false, "tickSize": 4, "labelPadding": 2, "titlePadding": 4}},
      "y": {"field": "y", "type": "quantitative", "scale": {"domain": [0, 390], "nice": false, "zero": false},
            "axis": {"title": "Intensity", "labels": false, "ticks": false, "domain": false, "titleFontSize": 14, "titlePadding": 5}}
    },
    "layer": [
      {"mark": {"type": "rule", "color": "black", "strokeWidth": 1.2}, "encoding": {"x": {"datum": 100, "type": "quantitative"}, "y": {"datum": 0, "type": "quantitative"}, "y2": {"datum": 340}}},
      {"data": {"name": "raman"}, "mark": {"type": "line", "color": "black", "strokeWidth": 1, "clip": true}, "encoding": {"detail": {"field": "s"}}},
      {"data": {"name": "ramanLabels"}, "mark": {"type": "text", "align": "left", "baseline": "middle", "dx": 2, "font": "Liberation Serif", "fontSize": 18, "color": "black"}, "encoding": {"text": {"field": "s"}}},
      {"data": {"name": "ramanAnn"}, "mark": {"type": "text", "align": "center", "baseline": "middle", "dy": 3, "font": "Liberation Serif", "fontSize": 15, "color": "#444444"}, "encoding": {"text": {"field": "t"}}},
      {"data": {"name": "ramanLegend"}, "mark": {"type": "text", "align": "left", "baseline": "middle", "font": "Liberation Serif", "fontSize": 17, "color": "black"}, "encoding": {"text": {"field": "t"}}},
      {"data": {"name": "panelB"}, "mark": {"type": "text", "align": "left", "baseline": "middle", "font": "Lato", "fontSize": 24, "color": "black"}, "encoding": {"text": {"field": "t"}}}
    ]
  }
]
}
